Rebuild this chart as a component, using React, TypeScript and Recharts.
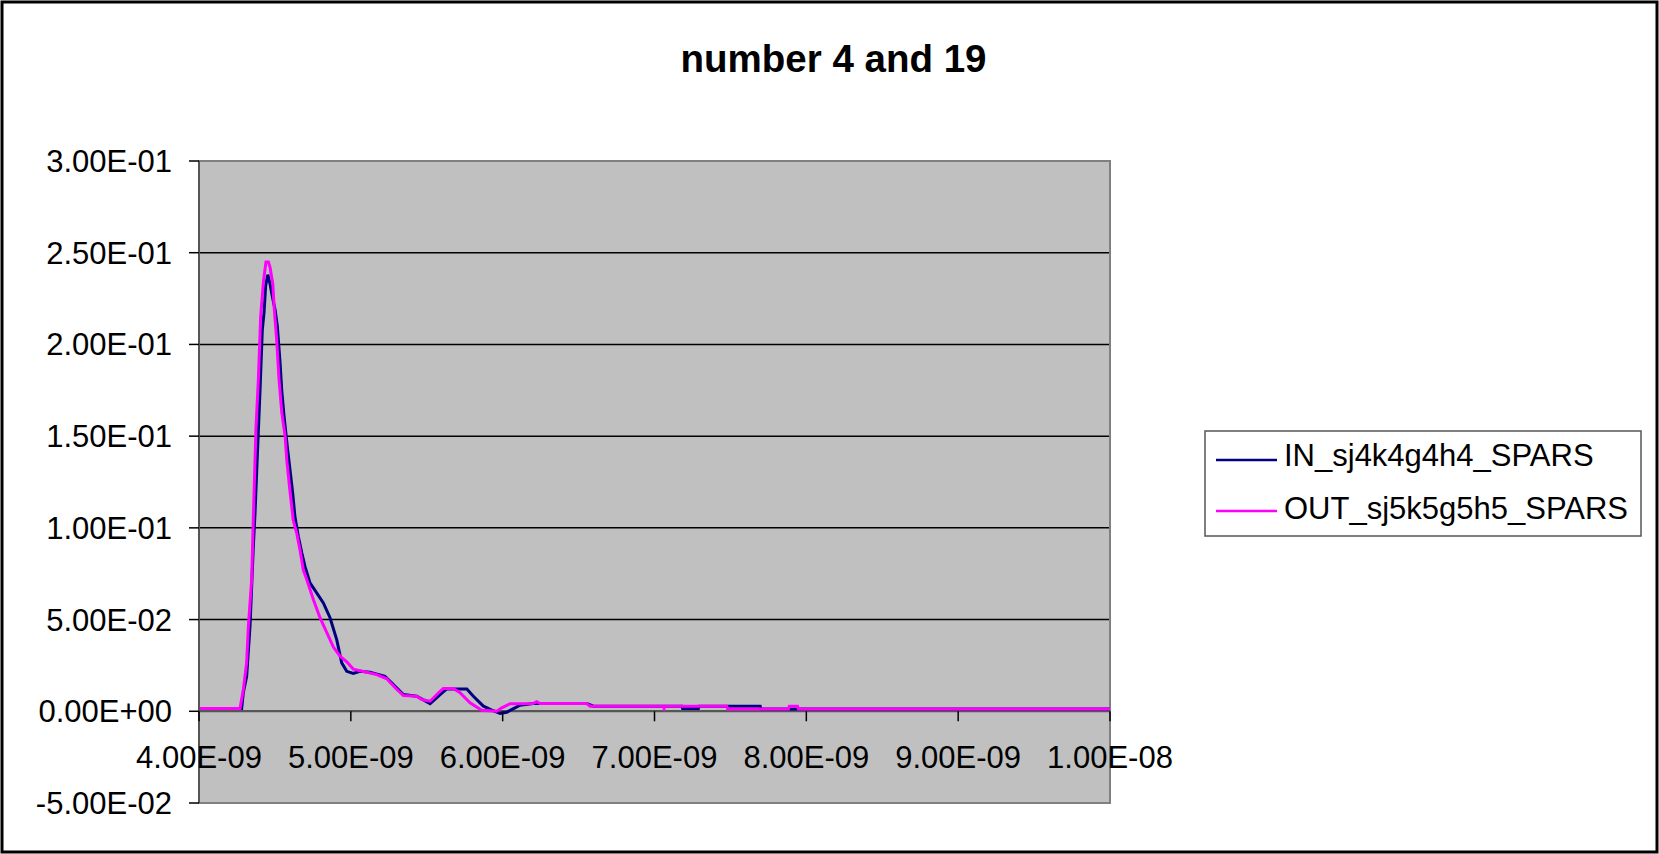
import {
  CartesianGrid,
  Legend,
  Line,
  LineChart,
  ReferenceArea,
  ReferenceLine,
  XAxis,
  YAxis,
} from "recharts";

// time in ns
const inTimes = [
  4.0, 4.281, 4.292, 4.314, 4.336, 4.358, 4.369, 4.384, 4.402, 4.417, 4.428, 4.439, 4.453, 4.468,
  4.483, 4.501, 4.516, 4.534, 4.545, 4.56, 4.582, 4.599, 4.617, 4.632, 4.654, 4.677, 4.698, 4.731,
  4.775, 4.819, 4.863, 4.907, 4.94, 4.973, 5.016, 5.061, 5.126, 5.225, 5.269, 5.346, 5.434, 5.522,
  5.588, 5.632, 5.764, 5.807, 5.873, 5.929, 5.983, 6.027, 6.115, 6.2, 6.554, 6.598, 7.18, 7.185,
  7.289, 7.295, 7.696, 7.7, 10.0,
];
const inValues = [
  0.0015, 0.0015, 0.0102, 0.0191, 0.0463, 0.09, 0.108, 0.139, 0.175, 0.208, 0.217, 0.232, 0.238,
  0.233, 0.226, 0.219, 0.21, 0.19, 0.175, 0.161, 0.144, 0.132, 0.119, 0.106, 0.0954, 0.0864, 0.079,
  0.07, 0.0646, 0.0591, 0.051, 0.0391, 0.0264, 0.0218, 0.0206, 0.0218, 0.0213, 0.0191, 0.0155,
  0.0091, 0.0082, 0.0042, 0.0091, 0.0122, 0.0122, 0.0082, 0.0028, 0.0006, -0.0012, -0.0005, 0.0033,
  0.0042, 0.0042, 0.0028, 0.0028, 0.0015, 0.0015, 0.0028, 0.0028, 0.0013, 0.0013,
];

const outTimes = [
  4.0, 4.27, 4.292, 4.314, 4.325, 4.347, 4.358, 4.375, 4.391, 4.406, 4.424, 4.441, 4.457, 4.468,
  4.486, 4.496, 4.512, 4.527, 4.545, 4.567, 4.578, 4.599, 4.621, 4.644, 4.665, 4.687, 4.709, 4.753,
  4.797, 4.841, 4.885, 4.929, 4.973, 5.016, 5.105, 5.171, 5.237, 5.292, 5.346, 5.434, 5.467, 5.522,
  5.588, 5.609, 5.675, 5.719, 5.785, 5.862, 5.961, 5.994, 6.049, 6.2, 6.224, 6.246, 6.554, 6.576,
  7.055, 7.063, 7.07, 7.476, 7.482, 7.882, 7.888, 7.942, 7.948, 10.0,
];
const outValues = [
  0.0015, 0.0015, 0.0119, 0.0266, 0.0462, 0.0719, 0.106, 0.154, 0.181, 0.215, 0.234, 0.245, 0.245,
  0.242, 0.233, 0.219, 0.202, 0.181, 0.163, 0.15, 0.137, 0.12, 0.104, 0.097, 0.088, 0.077, 0.072,
  0.061, 0.051, 0.043, 0.035, 0.03, 0.027, 0.023, 0.0213, 0.02, 0.0177, 0.0128, 0.0086, 0.0082,
  0.0064, 0.0055, 0.0109, 0.0124, 0.0124, 0.0101, 0.0046, 0.0006, 0.0, 0.0019, 0.0041, 0.0042,
  0.0052, 0.0042, 0.0042, 0.0028, 0.0028, 0.0015, 0.0028, 0.0028, 0.0013, 0.0013, 0.0028, 0.0028,
  0.0013, 0.0013,
];

const seriesNames = ["IN_sj4k4g4h4_SPARS", "OUT_sj5k5g5h5_SPARS"];
const xTicks = [4e-9, 5e-9, 6e-9, 7e-9, 8e-9, 9e-9, 1e-8];
const yTicks = [-0.05, 0, 0.05, 0.1, 0.15, 0.2, 0.25, 0.3];
const title = "number 4 and 19";

const inData = inTimes.map((t, i) => ({ t: t * 1e-9, v: inValues[i] }));
const outData = outTimes.map((t, i) => ({ t: t * 1e-9, v: outValues[i] }));

const W = 1659;
const H = 854;
const TOP = 161;
const X_AXIS_H = 51;
const PLOT_H = H - TOP - X_AXIS_H;
const Y_MIN = -0.05;
const Y_MAX = 0.3;
const FONT = "'Liberation Sans', Arial, sans-serif";

const sci = (v: number) => {
  const [m, e] = v.toExponential(2).split("e");
  const n = Number(e);
  return `${m}E${n < 0 ? "-" : "+"}${String(Math.abs(n)).padStart(2, "0")}`;
};

// category axis crosses at y = 0, so draw ticks/labels there
function XTick(props: any) {
  const { x, y, payload } = props;
  const zeroY = y - (PLOT_H * (0 - Y_MIN)) / (Y_MAX - Y_MIN);
  return (
    <g>
      <line x1={x} x2={x} y1={zeroY} y2={zeroY + 10} stroke="#000" strokeWidth={1.5} />
      <text x={x} y={zeroY + 57} textAnchor="middle" fontSize={31} fontFamily={FONT} fill="#000">
        {sci(payload.value)}
      </text>
    </g>
  );
}

function LegendBox({ payload }: any) {
  return (
    <svg width={438} height={107}>
      <rect x={1} y={1} width={436} height={105} fill="#fff" stroke="#555" strokeWidth={1.5} />
      {(payload || []).map((p: any, i: number) => (
        <g key={p.value}>
          <line x1={12} x2={73} y1={30 + i * 51} y2={30 + i * 51} stroke={p.color} strokeWidth={2.5} />
          <text x={80} y={36 + i * 52.5} fontSize={31} fontFamily={FONT} fill="#000">
            {p.value}
          </text>
        </g>
      ))}
    </svg>
  );
}

export default function App() {
  return (
    <div style={{ position: "absolute", left: 0, top: 0, width: W, height: H, background: "#fff" }}>
      <svg width={W} height={H} style={{ position: "absolute", left: 0, top: 0 }}>
        <rect x={2} y={2} width={W - 4} height={H - 4} fill="none" stroke="#000" strokeWidth={3} />
        <text x={833.5} y={72} textAnchor="middle" fontSize={38.5} fontWeight="bold" fontFamily={FONT}>
          {title}
        </text>
      </svg>
      <div style={{ position: "absolute", left: 0, top: 0 }}>
        <LineChart width={W} height={H} margin={{ top: TOP, right: W - 1110, bottom: 0, left: 0 }}>
          <CartesianGrid vertical={false} fill="#c0c0c0" stroke="#000" strokeWidth={1.5} />
          <XAxis
            type="number"
            dataKey="t"
            domain={[xTicks[0], xTicks[xTicks.length - 1]]}
            ticks={xTicks}
            interval={0}
            height={X_AXIS_H}
            axisLine={false}
            tickLine={false}
            tickSize={0}
            tickMargin={0}
            tick={(p: any) => <XTick {...p} />}
          />
          <YAxis
            type="number"
            domain={[Y_MIN, Y_MAX]}
            ticks={yTicks}
            interval={0}
            width={199}
            tickSize={10}
            tickMargin={17}
            axisLine={{ stroke: "#555", strokeWidth: 2 }}
            tickLine={{ stroke: "#000", strokeWidth: 1.5 }}
            tick={{ fontSize: 31, fill: "#000", fontFamily: FONT }}
            tickFormatter={sci}
          />
          <ReferenceArea
            x1={xTicks[0]}
            x2={xTicks[xTicks.length - 1]}
            y1={Y_MIN}
            y2={Y_MAX}
            fill="none"
            stroke="#808080"
            strokeWidth={2}
          />
          <ReferenceLine y={0} stroke="#555" strokeWidth={2} />
          <Line
            data={inData}
            dataKey="v"
            name={seriesNames[0]}
            type="linear"
            stroke="#000080"
            strokeWidth={3}
            dot={false}
            isAnimationActive={false}
          />
          <Line
            data={outData}
            dataKey="v"
            name={seriesNames[1]}
            type="linear"
            stroke="#ff00ff"
            strokeWidth={3}
            dot={false}
            isAnimationActive={false}
          />
          <Legend
            layout="vertical"
            align="center"
            verticalAlign="middle"
            content={(p: any) => <LegendBox {...p} />}
            wrapperStyle={{ position: "absolute", left: 1204, top: 430, width: 438, height: 107 }}
          />
        </LineChart>
      </div>
    </div>
  );
}
